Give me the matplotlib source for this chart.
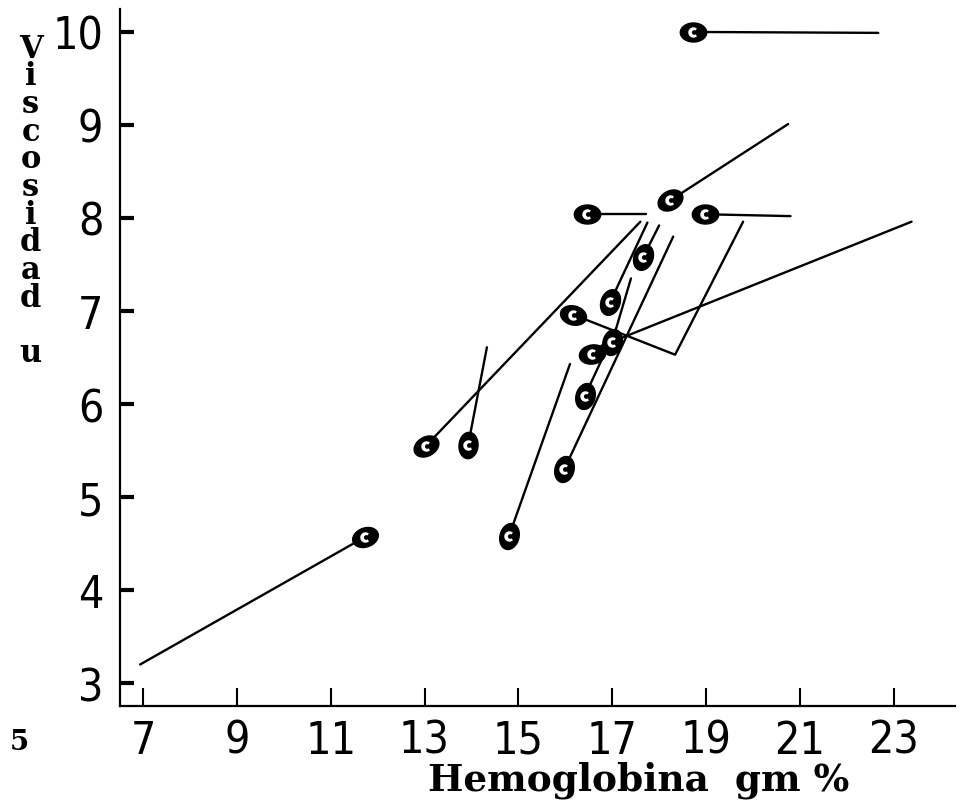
import numpy as np
import matplotlib
matplotlib.use("Agg")
import matplotlib.pyplot as plt
from matplotlib.path import Path
from matplotlib.markers import MarkerStyle
from matplotlib.transforms import Affine2D
from matplotlib import font_manager

# Hemoglobina (gm %) y viscosidad (u) de cada caso
hb_points = [18.73, 18.24, 16.47, 18.98, 17.66, 16.96, 16.17, 17.00,
             16.57, 16.42, 15.98, 14.80, 13.93, 13.03, 11.73]
visc_points = [10.00, 8.19, 8.04, 8.04, 7.58, 7.10, 6.96, 6.67,
               6.54, 6.09, 5.30, 4.58, 5.56, 5.55, 4.57]

# trazos que salen de cada punto
trace_hb = [
    [18.73, 22.67],
    [18.24, 20.75],
    [16.47, 17.72],
    [18.98, 20.80],
    [17.66, 18.00],
    [16.96, 17.75],
    [16.17, 18.34, 19.79],
    [17.00, 23.38],
    [17.00, 17.40],
    [16.57, 17.00],
    [16.42, 17.00],
    [15.98, 18.30],
    [14.80, 16.10],
    [13.93, 14.33],
    [13.03, 17.60],
    [11.73, 6.94],
]
trace_visc = [
    [10.00, 9.99],
    [8.19, 9.01],
    [8.04, 8.04],
    [8.04, 8.02],
    [7.58, 7.92],
    [7.10, 7.95],
    [6.96, 6.53, 7.96],
    [6.67, 7.96],
    [6.67, 7.35],
    [6.54, 6.72],
    [6.09, 6.72],
    [5.30, 7.80],
    [4.58, 6.43],
    [5.56, 6.61],
    [5.55, 7.96],
    [4.57, 3.20],
]

x_ticks = [7, 9, 11, 13, 15, 17, 19, 21, 23]
y_ticks = [3, 4, 5, 6, 7, 8, 9, 10]

# orientation of each hand-drawn blob
blob_angle = [0, 30, 0, 0, 70, 70, -15, 75, 10, 75, 75, 75, 85, 30, 20]

t = np.linspace(0, 2 * np.pi, 60)
ellipse = Path(np.column_stack([np.cos(t), 0.72 * np.sin(t)]), closed=True)
a_out = np.radians(np.linspace(50, 310, 30))
a_in = a_out[::-1]
crescent = Path(np.vstack([np.column_stack([np.cos(a_out), np.sin(a_out)]),
                           np.column_stack([0.45 * np.cos(a_in) + 0.15, 0.45 * np.sin(a_in)])]),
                closed=True)

fig = plt.figure(figsize=(9.6, 8.04), dpi=100)
ax = fig.add_axes([0.125, 0.1206, 0.87, 0.867])

for xs, ys in zip(trace_hb, trace_visc):
    ax.plot(xs, ys, color="black", lw=1.7, solid_capstyle="round")

for x, y, ang in zip(hb_points, visc_points, blob_angle):
    m = MarkerStyle(ellipse, transform=Affine2D().rotate_deg(ang))
    ax.plot([x], [y], linestyle="none", marker=m, markersize=19, color="black")
    ax.plot([x], [y], linestyle="none", marker=MarkerStyle(crescent), markersize=7.5,
            color="white", markeredgewidth=0)

ax.set_xlim(6.51, 24.31)
ax.set_ylim(2.753, 10.247)
ax.set_xticks(x_ticks)
ax.set_yticks(y_ticks)
tick_font = font_manager.FontProperties(family="DejaVu Sans", stretch="condensed",
                                        weight="light", size=32)
ax.set_xticklabels([str(v) for v in x_ticks])
ax.set_yticklabels([str(v) for v in y_ticks])
for lab in ax.get_xticklabels() + ax.get_yticklabels():
    lab.set_fontproperties(tick_font)
ax.tick_params(axis="x", direction="in", length=13, width=1.5, pad=9)
ax.tick_params(axis="y", direction="in", length=10, width=3, pad=12)
for s in ["top", "right"]:
    ax.spines[s].set_visible(False)
for s in ["left", "bottom"]:
    ax.spines[s].set_linewidth(1.6)

serif = ["DejaVu Serif"]
fig.text(0.032, 0.958, "V\ni\ns\nc\no\ns\ni\nd\na\nd\n\nu", ha="center", va="top",
         family=serif, weight="bold", size=22, linespacing=0.86)
fig.text(0.665, 0.03, "Hemoglobina  gm %", ha="center", va="center",
         family=serif, weight="bold", size=27)
fig.text(0.02, 0.077, "5", ha="center", va="center", family=serif, weight="bold", size=20)

plt.savefig("out.png", dpi=100)
